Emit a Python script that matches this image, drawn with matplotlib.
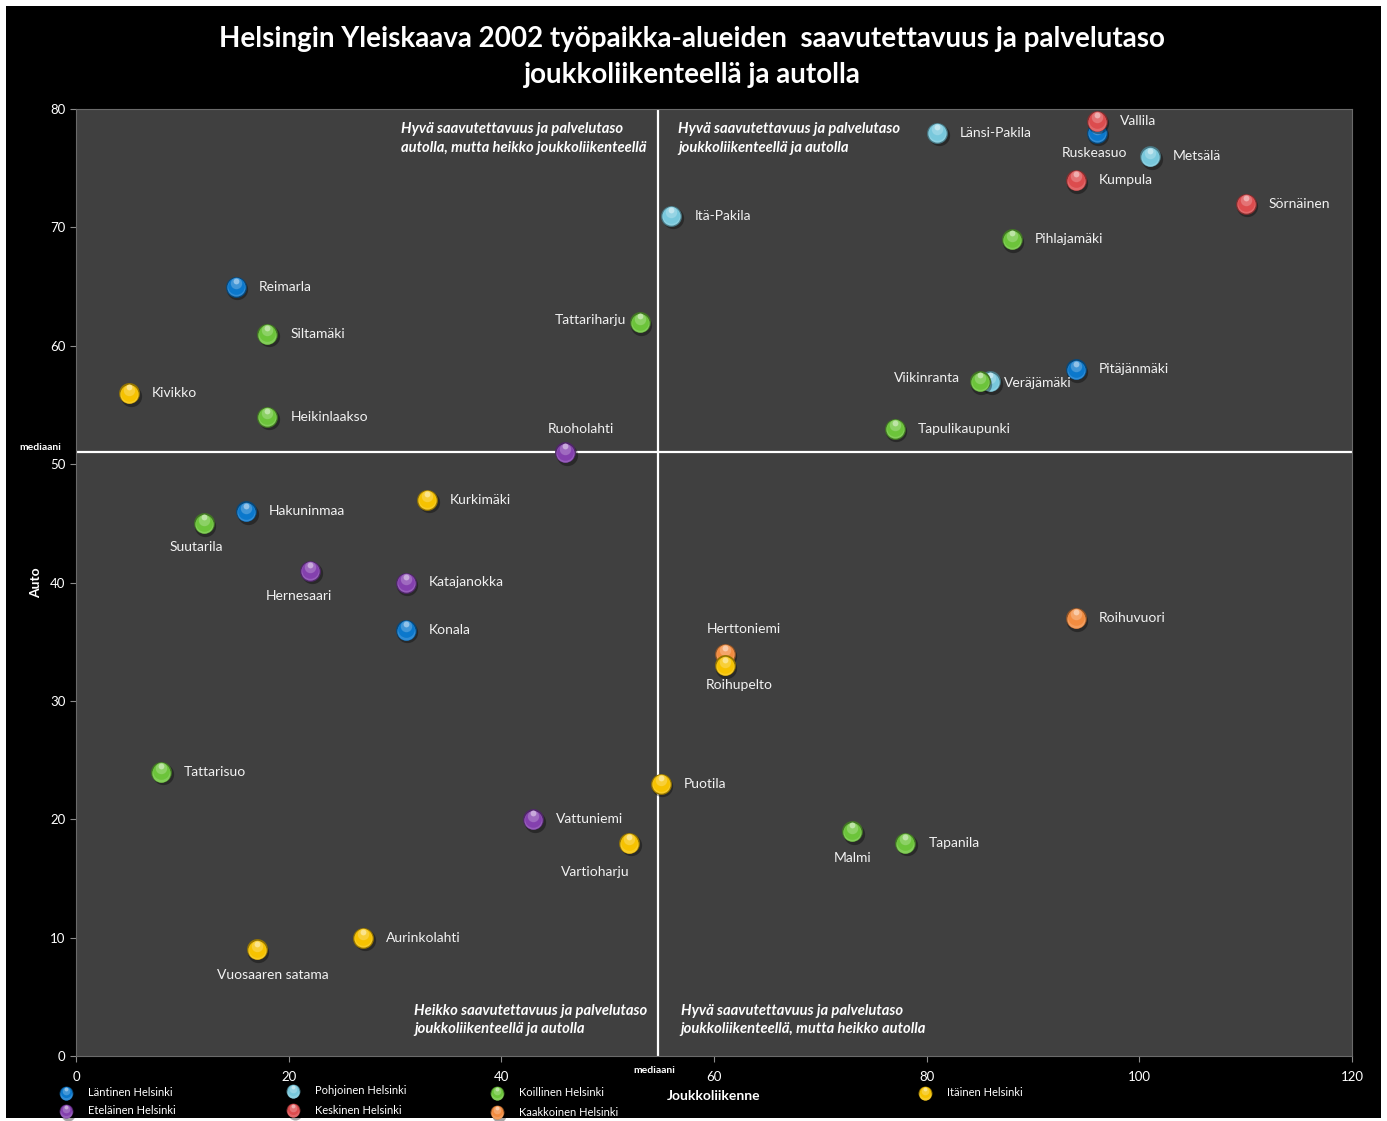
import numpy as np
import matplotlib
matplotlib.use("Agg")
import matplotlib.pyplot as plt
from matplotlib.colors import to_rgb
from matplotlib.patches import Rectangle
from matplotlib.transforms import offset_copy, blended_transform_factory

plt.rcParams["font.family"] = ["Lato", "DejaVu Sans"]

# työpaikka-alueet: joukkoliikenne (x), auto (y), suuralue
names = ["Reimarla", "Hakuninmaa", "Konala", "Pitäjänmäki", "Ruskeasuo",
         "Ruoholahti", "Hernesaari", "Katajanokka", "Vattuniemi",
         "Länsi-Pakila", "Metsälä", "Itä-Pakila", "Veräjämäki",
         "Vallila", "Kumpula", "Sörnäinen",
         "Pihlajamäki", "Siltamäki", "Tattariharju", "Heikinlaakso", "Viikinranta",
         "Tapulikaupunki", "Suutarila", "Tattarisuo", "Malmi", "Tapanila",
         "Herttoniemi", "Roihuvuori",
         "Kivikko", "Kurkimäki", "Roihupelto", "Puotila", "Vartioharju",
         "Aurinkolahti", "Vuosaaren satama"]
joukko = [15, 16, 31, 94, 96,
          46, 22, 31, 43,
          81, 101, 56, 86,
          96, 94, 110,
          88, 18, 53, 18, 85,
          77, 12, 8, 73, 78,
          61, 94,
          5, 33, 61, 55, 52,
          27, 17]
auto = [65, 46, 36, 58, 78,
        51, 41, 40, 20,
        78, 76, 71, 57,
        79, 74, 72,
        69, 61, 62, 54, 57,
        53, 45, 24, 19, 18,
        34, 37,
        56, 47, 33, 23, 18,
        10, 9]
alue = ["Läntinen"] * 5 + ["Eteläinen"] * 4 + ["Pohjoinen"] * 4 + ["Keskinen"] * 3 + \
       ["Koillinen"] * 10 + ["Kaakkoinen"] * 2 + ["Itäinen"] * 7

regions = ["Läntinen", "Eteläinen", "Pohjoinen", "Keskinen", "Koillinen", "Kaakkoinen", "Itäinen"]
region_colors = {"Läntinen": "#0b78cc", "Eteläinen": "#8440ae", "Pohjoinen": "#78c8dc",
                 "Keskinen": "#dc4c4e", "Koillinen": "#6cc43a", "Kaakkoinen": "#f28c40",
                 "Itäinen": "#f6c200"}

median_x = 54.7
median_y = 51

# nimien sijoittelu: (dx, dy) pisteinä ja tasaus
label_place = {
    "Ruskeasuo": (-2, -14.4, "center"),
    "Tattariharju": (-9.5, 1.4, "right"),
    "Viikinranta": (-14.4, 2, "right"),
    "Veräjämäki": (10, -1.4, "left"),
    "Ruoholahti": (11.5, 16.5, "center"),
    "Suutarila": (-5, -17.3, "center"),
    "Hernesaari": (-8, -18, "center"),
    "Herttoniemi": (13.7, 17.3, "center"),
    "Roihupelto": (10.8, -14.4, "center"),
    "Vartioharju": (-24.5, -20.9, "center"),
    "Malmi": (0, -19.4, "center"),
    "Vuosaaren satama": (11.5, -18.7, "center"),
}


def mix(c, other, t):
    a = np.array(to_rgb(c))
    b = np.array(to_rgb(other))
    return tuple(a * (1 - t) + b * t)


def spheres(ax, xs, ys, color, d=15, trans=None, zorder=3):
    # kiiltävä pallo kerroksista: varjo, tumma reuna, runko ja heijastus
    fig = ax.figure
    if trans is None:
        trans = ax.transData

    def off(dx, dy):
        return offset_copy(trans, fig=fig, x=dx, y=dy, units="points")

    kw = dict(linewidths=0, clip_on=False, zorder=zorder)
    ax.scatter(xs, ys, s=(d * 1.02) ** 2, color="black", alpha=0.35, transform=off(1.2, -1.8), **kw)
    ax.scatter(xs, ys, s=d ** 2, color=mix(color, "black", 0.4), transform=trans, **kw)
    ax.scatter(xs, ys, s=(d * 0.88) ** 2, color=mix(color, "white", 0.15), transform=off(0, -0.5), **kw)
    ax.scatter(xs, ys, s=(d * 0.8) ** 2, color=color, transform=off(0, 0.4), **kw)
    ax.scatter(xs, ys, s=(d * 0.55) ** 2, color=mix(color, "white", 0.22), transform=off(0, d * 0.17), **kw)
    ax.scatter(xs, ys, s=(d * 0.28) ** 2, color=mix(color, "white", 0.55), transform=off(0, d * 0.28), **kw)


W, H = 1387, 1121
fig = plt.figure(figsize=(W / 100, H / 100), dpi=100, facecolor="white")
fig.patches.append(Rectangle((6 / W, 3 / H), 1375 / W, 1112 / H, transform=fig.transFigure,
                             facecolor="black", edgecolor="none", zorder=-10))

ax = fig.add_axes([76 / W, 1 - 1056 / H, 1276 / W, 947 / H])
ax.set_facecolor("#404040")
ax.set_xlim(0, 120)
ax.set_ylim(0, 80)
ax.set_xticks(range(0, 121, 20))
ax.set_yticks(range(0, 81, 10))
ax.tick_params(colors="#8c8c8c", labelcolor="white", labelsize=9.5, length=4, width=0.8)
ax.tick_params(axis="x", pad=7)
for s in ax.spines.values():
    s.set_color("#6a6a6a")
    s.set_linewidth(0.8)

ax.axhline(median_y, color="white", lw=1.6, zorder=2)
ax.axvline(median_x, color="white", lw=1.6, zorder=2)

joukko = np.array(joukko)
auto = np.array(auto)
alue = np.array(alue)
for r in regions:
    m = alue == r
    spheres(ax, joukko[m], auto[m], region_colors[r])

for n, x, y in zip(names, joukko, auto):
    dx, dy, ha = label_place.get(n, (16.5, 0, "left"))
    ax.annotate(n, (x, y), xytext=(dx, dy), textcoords="offset points", ha=ha, va="center",
                color="#f2f2f2", fontsize=10, zorder=4)

# nelikenttien selitteet
qkw = dict(transform=ax.transAxes, color="white", fontsize=10.6, fontweight="bold",
           style="italic", linespacing=1.4)
ax.text(0.2547, 0.986, "Hyvä saavutettavuus ja palvelutaso\nautolla, mutta heikko joukkoliikenteellä",
        va="top", **qkw)
ax.text(0.4718, 0.986, "Hyvä saavutettavuus ja palvelutaso\njoukkoliikenteellä ja autolla",
        va="top", **qkw)
ax.text(0.2649, 0.021, "Heikko saavutettavuus ja palvelutaso\njoukkoliikenteellä ja autolla",
        va="bottom", **qkw)
ax.text(0.474, 0.021, "Hyvä saavutettavuus ja palvelutaso\njoukkoliikenteellä, mutta heikko autolla",
        va="bottom", **qkw)

# mediaani-merkinnät
ax.text(-0.028, median_y, "mediaani", transform=blended_transform_factory(ax.transAxes, ax.transData),
        ha="center", va="bottom", color="white", fontsize=7.5, fontweight="bold")
ax.text(median_x - 0.3, -0.0155, "mediaani", transform=blended_transform_factory(ax.transData, ax.transAxes),
        ha="center", va="center", color="white", fontsize=7.5, fontweight="bold")

ax.set_xlabel("Joukkoliikenne", color="white", fontsize=10, fontweight="bold", labelpad=5)
ax.set_ylabel("Auto", color="white", fontsize=10, fontweight="bold", labelpad=6)

fig.text(0.499, 1 - 57 / H, "Helsingin Yleiskaava 2002 työpaikka-alueiden  saavutettavuus ja palvelutaso\n"
         "joukkoliikenteellä ja autolla", ha="center", va="center", color="white",
         fontsize=20, fontweight="bold", linespacing=1.5)

# selite: pallot ja nimet kuvan alareunassa
lax = fig.add_axes([0, 0, 1, 1], zorder=5)
lax.set_xlim(0, W)
lax.set_ylim(H, 0)
lax.axis("off")
legend_slots = [(66, 1093), (66, 1111), (293, 1091), (293, 1110), (497, 1093), (497, 1112), (925, 1093)]
for r, (lx, ly) in zip(regions, legend_slots):
    spheres(lax, [lx], [ly], region_colors[r], d=10, trans=lax.transData)
    lax.text(lx + 22, ly, r + " Helsinki", color="white", fontsize=8, va="center", ha="left")

fig.savefig("out.png", dpi=100, facecolor=fig.get_facecolor())
